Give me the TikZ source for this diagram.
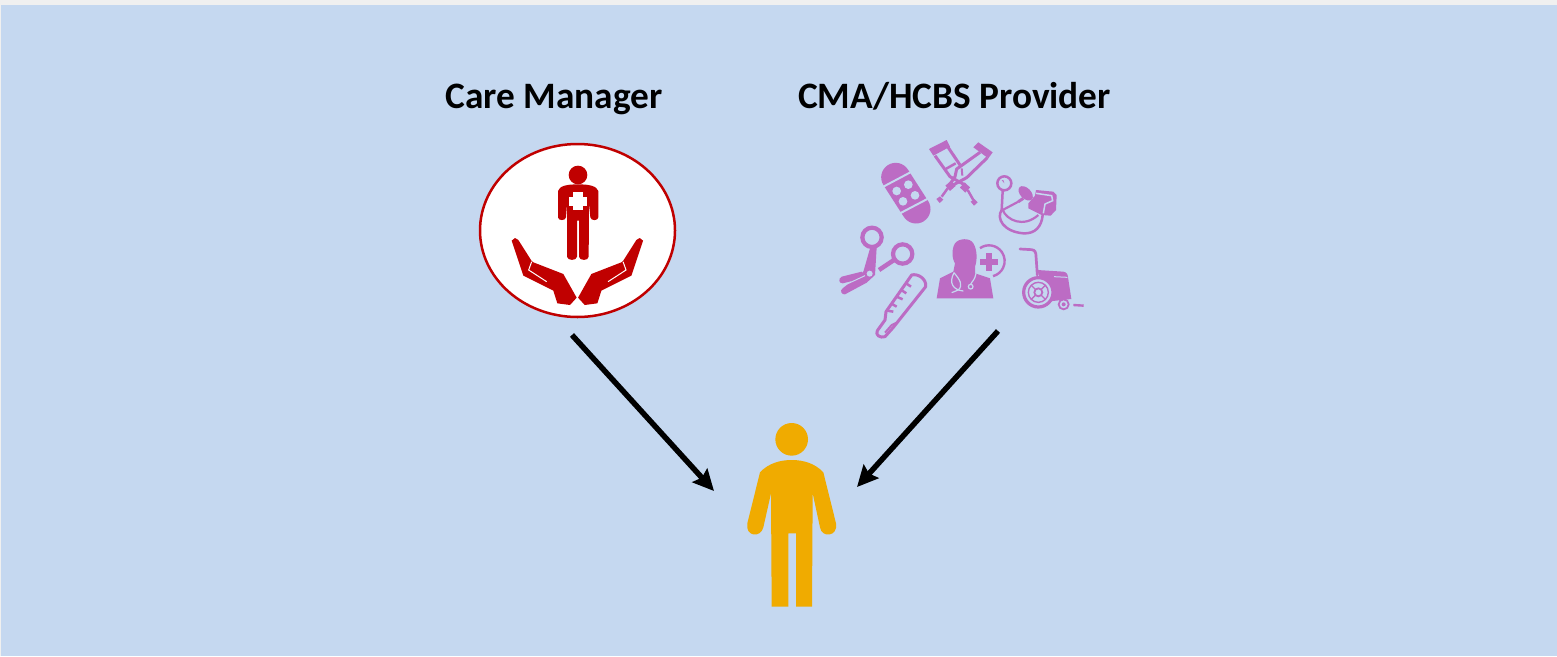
\documentclass[tikz,border=0pt]{standalone}
\usepackage{fontspec}
\setmainfont{Carlito}
\usetikzlibrary{arrows.meta,shapes.geometric}
\definecolor{panelblue}{HTML}{C5D8F0}
\definecolor{stripgray}{HTML}{F0F0F0}
\definecolor{carered}{HTML}{C00000}
\definecolor{toolpurple}{HTML}{BC6CC4}
\definecolor{personorange}{HTML}{F0AB00}
\tikzset{
  titlelabel/.style={inner sep=0pt,anchor=base,font=\fontsize{37.3}{40}\selectfont\bfseries},
  toolline/.style={draw=toolpurple,line width=#1},
  gapline/.style={draw=panelblue,line width=#1},
  flowarrow/.style={line width=5.5pt,-{Stealth[length=21pt,width=20pt,inset=3pt]}}
}
\newcommand{\carehand}{%
  \fill[carered] (125,332) -- (135,324) -- (145,330) -- (185,393) -- (190,397) -- (280,432)
    -- (320,503) -- (300,525) -- (262,520) -- (250,482) -- (160,437) -- cycle;
  \draw[white,line width=1pt] (185,395) -- (176,420) -- (230,455);
}
\begin{document}
\begin{tikzpicture}[x=1pt,y=-1pt]
  \useasboundingbox (0,0) rectangle (1557,656);
  \fill[stripgray] (0,0) rectangle (1557,656);
  \fill[panelblue] (1,5) rectangle (1557,656);

  \node[titlelabel] (CareManager) at (554,108) {Care Manager};
  \node[titlelabel] (Provider) at (954.5,108) {CMA/HCBS Provider};

  % care manager
  \node[draw=carered,fill=white,line width=2.5pt,ellipse,minimum width=195pt,minimum height=173pt,inner sep=0pt] (CareIcon) at (577.5,230.5) {};
  \begin{scope}[shift={(470,130)},scale=1/3]
    \fill[carered] (324,135) circle[radius=28];
    \fill[carered] (264,183) .. controls (268,168) and (290,163) .. (324,163)
      .. controls (358,163) and (380,168) .. (385,183) -- (385,262)
      .. controls (385,273) and (362,273) .. (361,262) -- (357,222) -- (356,380)
      .. controls (356,393) and (328,393) .. (327,380) -- (327,272) -- (321,272) -- (321,380)
      .. controls (320,393) and (292,393) .. (291,380) -- (291,222) -- (288,262)
      .. controls (287,273) and (264,273) .. (264,262) -- cycle;
    \fill[white] (310,187) rectangle (338,240);
    \fill[white] (296,200) rectangle (352,227);
    \carehand
  \end{scope}
  \begin{scope}[shift={(684.7,130)},xscale=-1/3,yscale=1/3]
    \carehand
  \end{scope}

  % bandage
  \begin{scope}[shift={(830,130)},scale=1/3]
    \draw[toolline=29pt,line cap=round] (197,142) -- (258,237);
    \draw[gapline=2pt] (160,170) -- (245,125);
    \draw[gapline=2pt] (210,250) -- (292,207);
    \foreach \dotx/\doty in {200/183,235/164,255/196,219/214}
      \fill[panelblue] (\dotx,\doty) circle[radius=13];
  \end{scope}

  % crutches
  \begin{scope}[shift={(925,135)},scale=1/3]
    \fill[toolpurple] (12,42) -- (65,15) -- (75,35) -- (25,62) -- cycle;
    \fill[toolpurple] (145,37) -- (160,22) -- (203,52) -- (190,70) -- cycle;
    \draw[toolline=3pt] (30,62) -- (75,125) -- (120,150);
    \draw[toolline=3pt] (68,35) -- (105,90);
    \draw[toolline=2.5pt] (62,102) -- (92,85);
    \draw[toolline=3pt] (165,52) -- (95,102) -- (90,125) -- (70,155);
    \draw[toolline=3pt] (187,68) -- (125,128) -- (75,155);
    \draw[toolline=2pt] (110,100) -- (112,122);
    \draw[toolline=7pt] (85,145) -- (68,160);
    \draw[toolline=7pt] (112,150) -- (128,165);
    \draw[toolline=2.5pt] (68,160) -- (50,185);
    \draw[toolline=2.5pt] (128,165) -- (145,195);
    \fill[toolpurple] (34,192) -- (45,184) -- (55,194) -- (44,204) -- cycle;
    \fill[toolpurple] (137,200) -- (148,192) -- (158,202) -- (147,212) -- cycle;
  \end{scope}

  % blood pressure cuff
  \begin{scope}[shift={(960,130)},scale=1/3]
    \draw[toolline=2.5pt] (133,160) circle[radius=21];
    \fill[toolpurple] (133,160) -- (125,150) -- (130,150) -- cycle;
    \draw[toolline=2.5pt] (128,183) -- (125,240) .. controls (108,265) and (130,305) .. (190,310)
      .. controls (225,312) and (245,290) .. (248,255);
    \draw[toolline=2.2pt] (175,215) -- (128,240) .. controls (140,270) and (190,295) .. (235,255);
    \fill[toolpurple,rotate around={-45:(197,190)}] (197,190) ellipse[x radius=26,y radius=16];
    \draw[toolline=3pt] (190,205) -- (175,215);
    \fill[toolpurple] (228,180) -- (280,185) -- (290,195) -- (288,240) -- (272,257) -- (245,255)
      -- (205,235) -- (205,220) -- (225,197) -- cycle;
    \draw[gapline=1.5pt] (228,190) -- (275,197) -- (278,212) -- (255,222) -- (250,250);
  \end{scope}

  % scissors
  \begin{scope}[shift={(830,230)},scale=1/3]
    \draw[toolline=4.2pt] (126,22) circle[radius=29];
    \draw[toolline=4.2pt] (218,72) circle[radius=29];
    \fill[toolpurple] (122,48) -- (140,52) -- (135,135) -- (110,158) -- (45,193)
      .. controls (35,195) and (28,182) .. (38,175) -- (100,125) -- cycle;
    \fill[toolpurple] (95,125) -- (35,140) .. controls (25,145) and (25,160) .. (38,160) -- (100,145) -- cycle;
    \draw[gapline=1pt] (38,168) -- (105,137);
    \draw[toolline=4.5pt] (195,88) -- (147,120);
    \fill[panelblue] (119,131) circle[radius=9];
  \end{scope}

  % thermometer
  \begin{scope}[shift={(830,230)},scale=1/3]
    \draw[toolline=3pt,line join=round] (245,135) .. controls (262,130) and (290,145) .. (287,170)
      -- (190,292) -- (165,320) .. controls (150,325) and (135,315) .. (142,302) -- (165,270) -- (168,245) -- cycle;
    \foreach \ticka/\tickb/\tickc/\tickd in {228/160/243/170,214/180/229/190,200/200/218/208,186/222/200/230,172/242/190/245}
      \draw[toolline=2.5pt] (\ticka,\tickb) -- (\tickc,\tickd);
    \draw[toolline=2pt] (165,308) -- (185,285) -- (200,278);
  \end{scope}

  % doctor
  \begin{scope}[shift={(930,230)},scale=1/3]
    \fill[toolpurple] (20,205) -- (30,145) -- (70,125) -- (75,100) .. controls (65,85) and (65,55) .. (75,40)
      .. controls (85,25) and (120,22) .. (130,40) .. controls (142,60) and (142,90) .. (135,110) -- (135,130)
      -- (180,145) -- (190,205) -- cycle;
    \draw[gapline=1.2pt] (72,128) .. controls (55,160) and (70,180) .. (100,183);
    \draw[gapline=1.2pt] (72,128) .. controls (90,150) and (100,165) .. (85,180) -- (65,188);
    \draw[gapline=1.2pt] (138,130) .. controls (135,150) and (125,155) .. (122,163);
    \draw[gapline=1.2pt] (122,170) circle[radius=7];
    \draw[toolline=2.4pt] (150,54.5) arc[start angle=-125,end angle=75,radius=47];
    \fill[toolpurple] (168,68) rectangle (186,122);
    \fill[toolpurple] (150,86) rectangle (204,104);
  \end{scope}

  % wheelchair
  \begin{scope}[shift={(930,230)},scale=1/3]
    \draw[toolline=2.7pt,line cap=round] (270,57) -- (305,59) .. controls (315,60) and (318,68) .. (318,78) -- (322,135);
    \fill[toolpurple] (322,120) -- (400,125) .. controls (410,127) and (413,132) .. (414,142) -- (424,207)
      -- (350,215) -- (330,145) -- cycle;
    \draw[gapline=1pt] (372,140) -- (412,142);
    \fill[panelblue] (325,187) circle[radius=44];
    \fill[panelblue] (350,240) -- (385,240) -- (385,212) -- (365,220) -- cycle;
    \draw[toolline=3.2pt] (325,187) circle[radius=44];
    \draw[toolline=1.4pt] (325,187) circle[radius=30];
    \draw[toolline=1.8pt] (325,187) circle[radius=12];
    \foreach \spoke in {45,135,225,315}
      \draw[toolline=1.4pt] (325,187) ++(\spoke:12) -- ++(\spoke:18);
    \draw[toolline=1.8pt] (401,223) circle[radius=15];
    \fill[toolpurple] (401,223) circle[radius=6];
    \draw[toolline=2.4pt] (430,225) -- (461,227);
  \end{scope}

  % person
  \begin{scope}[shift={(690,410)},scale=1/3]
    \fill[personorange] (305,88) circle[radius=49];
    \fill[personorange] (210,187) .. controls (235,160) and (270,150) .. (305,150)
      .. controls (340,150) and (375,160) .. (400,187) -- (438,340)
      .. controls (445,380) and (395,385) .. (390,352) -- (368,250) -- (366,590) -- (318,590) -- (318,370)
      -- (295,370) -- (295,590) -- (245,590) -- (243,250) -- (220,352)
      .. controls (212,385) and (165,380) .. (172,340) -- cycle;
  \end{scope}

  \coordinate (CareEnd) at (572,335);
  \coordinate (ProviderEnd) at (998,331);
  \coordinate (PersonLeft) at (714,491);
  \coordinate (PersonRight) at (857,487);

  \draw[flowarrow] (CareEnd) -- (PersonLeft);
  \draw[flowarrow] (ProviderEnd) -- (PersonRight);
\end{tikzpicture}
\end{document}
